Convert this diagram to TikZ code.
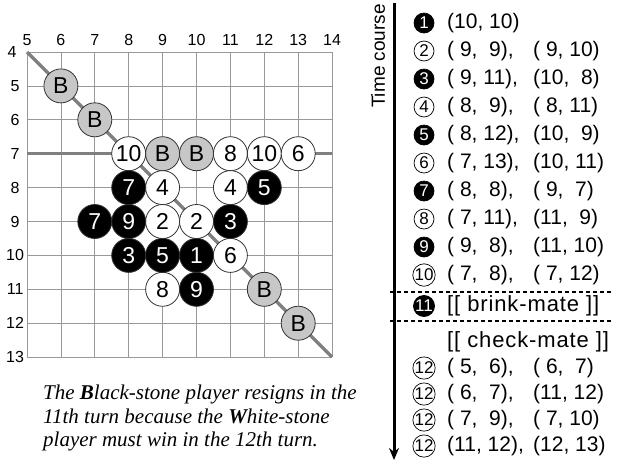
\documentclass[tikz,border=0pt]{standalone}
\usepackage{fontspec}
\setmainfont{Liberation Serif}
\setsansfont{Liberation Sans}
\usetikzlibrary{arrows.meta}

\begin{document}
\begin{tikzpicture}[x=1pt, y=-1pt, >={Stealth[length=12pt, width=10pt]}, font=\sffamily,
  gridline/.style={black!40, line width=0.8pt},
  markline/.style={black!50, line width=3.5pt},
  lab/.style={inner sep=0pt, font=\sffamily\fontsize{16}{16}\selectfont},
  stone/.style={circle, draw=black!80, line width=0.8pt, minimum size=34pt, inner sep=0pt, font=\sffamily\fontsize{23}{23}\selectfont},
  gstone/.style={stone, fill=black!22},
  wstone/.style={stone, fill=white},
  bstone/.style={stone, fill=black, text=white},
  turn/.style={circle, draw=black, line width=0.7pt, minimum size=20pt, inner sep=0pt, font=\sffamily\fontsize{17}{17}\selectfont},
  wturn/.style={turn, fill=white},
  bturn/.style={turn, fill=black, text=white},
  move/.style={anchor=west, inner sep=0pt, font=\sffamily\fontsize{21}{21}\selectfont},
  mate/.style={move, font=\sffamily\fontsize{22}{22}\selectfont\addfontfeature{LetterSpace=4}},
  sep/.style={dash pattern=on 4pt off 3pt, line width=1.1pt}]

\useasboundingbox (0,0) rectangle (617,464);

% board
\begin{scope}[shift={(-142.5pt,83.6pt)}, x=33.9pt, y=-33.9pt]
\foreach \c in {5,...,14} \draw[gridline] (\c,4) -- (\c,13);
\foreach \r in {4,...,13} \draw[gridline] (5,\r) -- (14,\r);

\foreach \c in {5,...,14} \node[lab] (col\c) at (\c,3.65) {\c};
\node[lab] (row4) at (4.56,4) {4};
\foreach \r in {5,...,13} \node[lab] (row\r) at (4.65,\r) {\r};

\draw[markline] (5,4) -- (14,13);
\draw[markline] (5,7) -- (14,7);

\foreach \c/\r in {6/5, 7/6, 9/7, 10/7, 12/11, 13/12}
  \node[gstone] (g\c-\r) at (\c,\r) {B};
\foreach \c/\r/\t in {8/7/10, 11/7/8, 12/7/10, 13/7/6, 9/8/4, 11/8/4, 9/9/2, 10/9/2, 11/10/6, 9/11/8}
  \node[wstone] (w\c-\r) at (\c,\r) {\t};
\foreach \c/\r/\t in {8/8/7, 12/8/5, 7/9/7, 8/9/9, 11/9/3, 8/10/3, 9/10/5, 10/10/1, 10/11/9}
  \node[bstone] (b\c-\r) at (\c,\r) {\t};
\end{scope}

\node[anchor=west, align=left, inner sep=0pt, font=\rmfamily\itshape\fontsize{21}{23.5}\selectfont] (note) at (43,418)
  {The \textbf{B}lack-stone player resigns in the\\
   11th turn because the \textbf{W}hite-stone\\
   player must win in the 12th turn.};

% time course
\coordinate (start) at (394,3);
\coordinate (end) at (394,460);
\draw[->, line width=3pt] (start) -- (end);
\node[rotate=90, inner sep=0pt, font=\sffamily\fontsize{19}{19}\selectfont] (tc) at (378,56) {Time course};

\node[bturn] (t1) at (424,23) {1};
\node[move] (m1) at (447,23) {(10, 10)};
\foreach \n/\y/\p/\q in {3/79/{(\ 9, 11),}/{(10, \ 8)}, 5/135/{(\ 8, 12),}/{(10, \ 9)},
    7/191/{(\ 8, \ 8),}/{(\ 9, \ 7)}, 9/247/{(\ 9, \ 8),}/{(11, 10)}} {
  \node[bturn] (t\n) at (424,\y) {\n};
  \node[move] (m\n) at (447,\y) {\p};
  \node[move] (n\n) at (533,\y) {\q};
}
\foreach \n/\y/\p/\q in {2/51/{(\ 9, \ 9),}/{(\ 9, 10)}, 4/107/{(\ 8, \ 9),}/{(\ 8, 11)}, 6/163/{(\ 7, 13),}/{(10, 11)},
    8/219/{(\ 7, 11),}/{(11, \ 9)}, 10/275/{(\ 7, \ 8),}/{(\ 7, 12)}} {
  \node[wturn] (t\n) at (424,\y) {\n};
  \node[move] (m\n) at (447,\y) {\p};
  \node[move] (n\n) at (533,\y) {\q};
}
\node[bturn] (t11) at (424,306) {11};
\node[mate] (brink) at (447,306) {[[ brink-mate ]]};
\node[mate] (check) at (447,342) {[[ check-mate ]]};
\foreach \k/\y/\p/\q in {a/368/{(\ 5, \ 6),}/{(\ 6, \ 7)}, b/394/{(\ 6, \ 7),}/{(11, 12)},
    c/420/{(\ 7, \ 9),}/{(\ 7, 10)}, d/446/{(11, 12),}/{(12, 13)}} {
  \node[wturn] (t12\k) at (424,\y) {12};
  \node[move] (m12\k) at (447,\y) {\p};
  \node[move] (n12\k) at (533,\y) {\q};
}

\coordinate (s1a) at (390,292);
\coordinate (s1b) at (612,292);
\coordinate (s2a) at (390,321);
\coordinate (s2b) at (612,321);
\draw[sep] (s1a) -- (s1b);
\draw[sep] (s2a) -- (s2b);
\end{tikzpicture}
\end{document}
